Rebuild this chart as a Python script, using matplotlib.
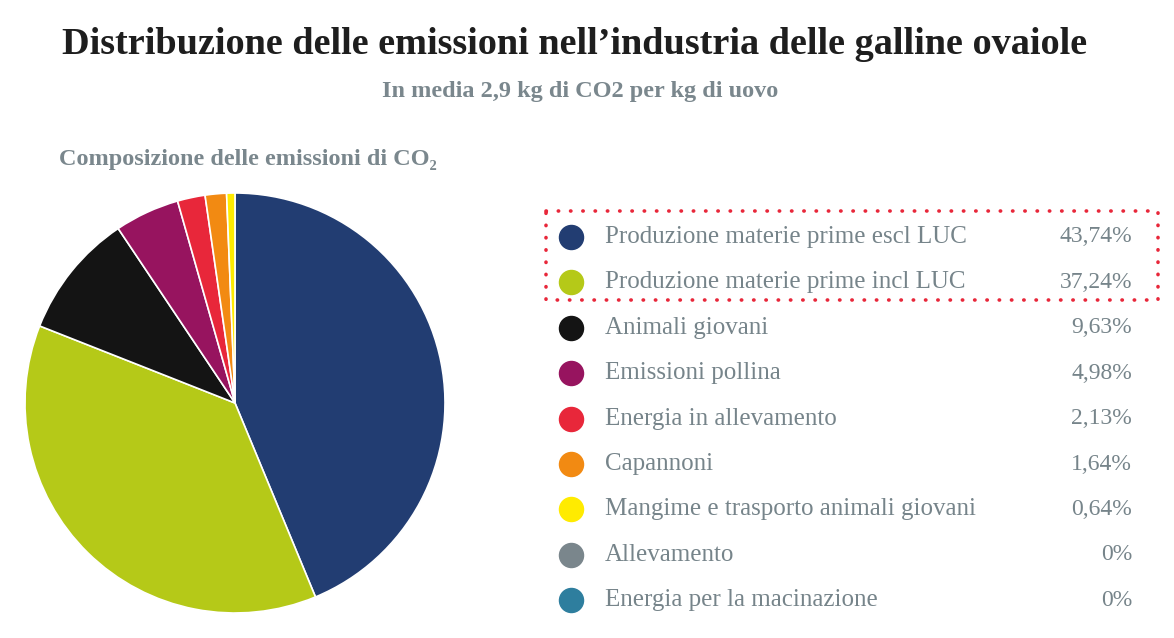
import matplotlib
matplotlib.use("Agg")
import matplotlib.pyplot as plt
from matplotlib.patches import Rectangle

plt.rcParams['font.family'] = ['Liberation Serif', 'DejaVu Serif']

title = "Distribuzione delle emissioni nell\u2019industria delle galline ovaiole"
subtitle = "In media 2,9 kg di CO2 per kg di uovo"
pie_title = "Composizione delle emissioni di CO\u2082"

labels = ["Produzione materie prime escl LUC", "Produzione materie prime incl LUC",
          "Animali giovani", "Emissioni pollina", "Energia in allevamento",
          "Capannoni", "Mangime e trasporto animali giovani", "Allevamento",
          "Energia per la macinazione"]
values = [43.74, 37.24, 9.63, 4.98, 2.13, 1.64, 0.64, 0, 0]
colors = ["#223d72", "#b5c918", "#141414", "#97145f", "#e8273a",
          "#f28a12", "#ffeb00", "#7a868c", "#2e7e9e"]

W, H = 1174, 638
fig = plt.figure(figsize=(W / 100, H / 100), dpi=100)
fig.patch.set_facecolor("white")

# overlay in pixel coordinates for text and legend
ov = fig.add_axes([0, 0, 1, 1])
ov.set_xlim(0, W)
ov.set_ylim(H, 0)
ov.axis("off")

ov.text(575, 44, title, ha="center", va="center", fontsize=27.5,
        fontweight="bold", color="#1e1e1e")
ov.text(580, 92, subtitle, ha="center", va="center", fontsize=17.5,
        fontweight="bold", color="#7a878d")
ov.text(59, 160, pie_title, ha="left", va="center", fontsize=17.5,
        fontweight="bold", color="#7a878d")

# pie
r = 210
cx, cy = 235, 403
pax = fig.add_axes([(cx - r) / W, (H - cy - r) / H, 2 * r / W, 2 * r / H])
nz = [(v, c) for v, c in zip(values, colors) if v > 0]
pax.pie([v for v, c in nz], colors=[c for v, c in nz], startangle=90,
        counterclock=False, radius=1,
        wedgeprops=dict(edgecolor="white", linewidth=1.2))
pax.set_xlim(-1, 1)
pax.set_ylim(-1, 1)
pax.set_aspect("equal")
pax.axis("off")

# legend
y0, dy = 237, 45.4
for i, (lab, v, c) in enumerate(zip(labels, values, colors)):
    y = y0 + i * dy
    ov.scatter([571], [y], s=300, color=c, zorder=3)
    ov.text(605, y, lab, ha="left", va="center", fontsize=18, color="#76848a")
    txt = "0%" if v == 0 else f"{v:.2f}%".replace(".", ",")
    ov.text(1132, y, txt, ha="right", va="center", fontsize=17, color="#76848a")

ov.add_patch(Rectangle((546, 211), 612, 89, fill=False, edgecolor="#e8273a",
                       linewidth=2.6, linestyle=(0, (0.1, 3.3)),
                       capstyle="round", joinstyle="round"))

fig.savefig("out.png", dpi=100, facecolor="white")
